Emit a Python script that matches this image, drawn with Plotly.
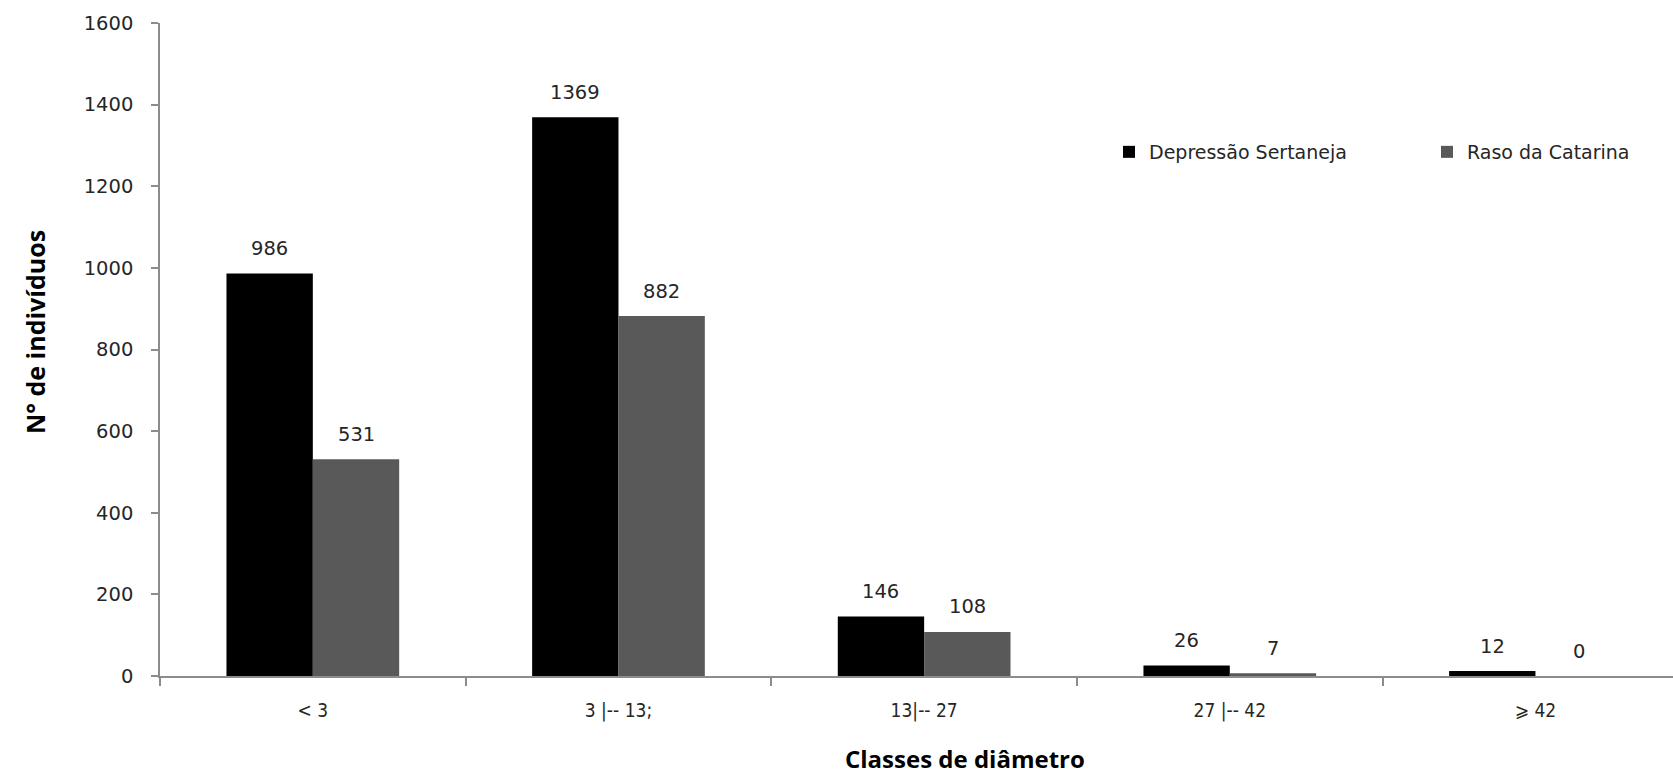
import plotly.graph_objects as go

# Diameter classes and number of individuals per region
classes = ["< 3", "3 |-- 13;", "13|-- 27", "27 |-- 42", "⩾ 42"]
depressao_sertaneja = [986, 1369, 146, 26, 12]
raso_da_catarina = [531, 882, 108, 7, 0]

series = [
    ("Depressão Sertaneja", depressao_sertaneja, "#000000"),
    ("Raso da Catarina", raso_da_catarina, "#595959"),
]

W, H = 1673, 775
M = dict(l=160, r=0, t=23, b=99, autoexpand=False)
plot_w = W - M["l"] - M["r"]
plot_h = H - M["t"] - M["b"]

# category axis runs slightly past the right edge of the canvas
X_RANGE = [-0.5, len(classes) - 0.55]
cat_px = plot_w / (X_RANGE[1] - X_RANGE[0])
BARGAP = 0.435
bar_px = cat_px * (1 - BARGAP) / len(series)

axis_col = "#8c8c8c"
txt_col = "#262626"
num_font = dict(family="DejaVu Sans, Verdana, sans-serif", size=19.5, color=txt_col)
cal_font = dict(family="Liberation Sans Narrow, Arial Narrow, DejaVu Sans Condensed, sans-serif",
                size=19, color=txt_col)
title_family = "Open Sans, DejaVu Sans, sans-serif"

fig = go.Figure()
for name, vals, col in series:
    fig.add_trace(go.Bar(name=name, x=classes, y=vals, marker=dict(color=col, line_width=0)))

# value labels above each bar
annotations = []
for k, (name, vals, col) in enumerate(series):
    shift = (k - (len(series) - 1) / 2) * bar_px
    for c, v in zip(classes, vals):
        annotations.append(dict(x=c, y=v, xref="x", yref="y", text=str(v), showarrow=False,
                                xshift=shift, yshift=25, yanchor="middle", font=num_font))

# axis titles
annotations.append(dict(text="<b>N° de indivíduos</b>", textangle=-90, showarrow=False,
                        xref="paper", yref="paper", x=(35 - M["l"]) / plot_w,
                        y=(676 - 332) / plot_h, xanchor="center", yanchor="middle",
                        font=dict(family=title_family, size=25, color="#000")))
annotations.append(dict(text="<b>Classes de diâmetro</b>", showarrow=False,
                        xref="paper", yref="paper", x=(965 - M["l"]) / plot_w,
                        y=(676 - 758) / plot_h, xanchor="center", yanchor="middle",
                        font=dict(family=title_family, size=24, color="#000")))

fig.update_layout(
    width=W, height=H, margin=M,
    paper_bgcolor="white", plot_bgcolor="white",
    barmode="group", bargap=BARGAP, bargroupgap=0,
    showlegend=True,
    legend=dict(orientation="h", x=(1109 - M["l"]) / plot_w, xanchor="left",
                y=(676 - 152) / plot_h, yanchor="middle",
                font=dict(family="DejaVu Sans, sans-serif", size=19, color=txt_col),
                entrywidth=273, itemwidth=30, bgcolor="rgba(0,0,0,0)"),
    annotations=annotations,
    xaxis=dict(type="category", range=X_RANGE, showline=True, linecolor=axis_col, linewidth=1.5,
               ticks="outside", tickson="boundaries", ticklen=8, tickcolor=axis_col, tickwidth=1.5,
               showgrid=False, zeroline=False, tickfont=cal_font, ticklabelstandoff=16),
    yaxis=dict(range=[0, 1600], dtick=200, showline=True, linecolor=axis_col, linewidth=1.5,
               ticks="outside", ticklen=7, tickcolor=axis_col, tickwidth=1.5,
               showgrid=False, zeroline=False, tickfont=num_font, ticklabelstandoff=14),
)

fig.write_html("out.html")
